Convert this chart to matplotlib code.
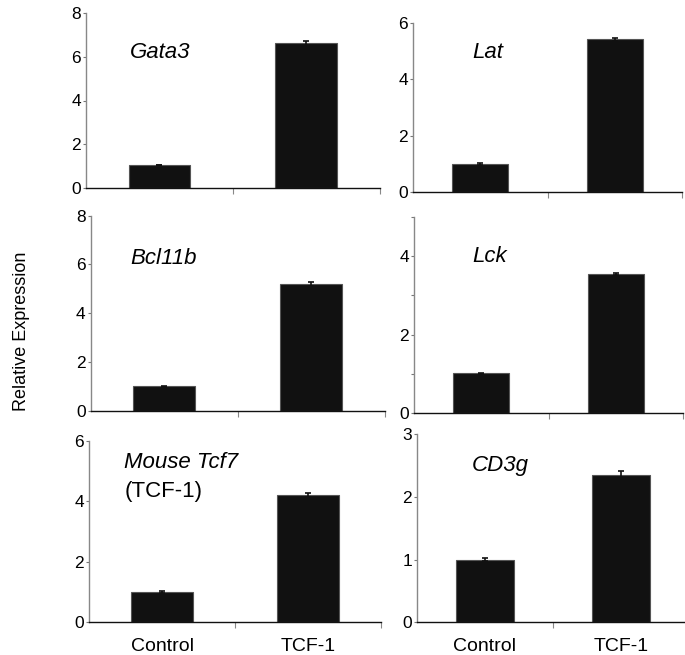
import matplotlib
matplotlib.use("Agg")
import matplotlib.pyplot as plt

plt.rcParams['font.family'] = ['Liberation Sans', 'DejaVu Sans']

groups = ["Control", "TCF-1"]
genes = ["Gata3", "Lat", "Bcl11b", "Lck", "Mouse Tcf7", "CD3g"]
control_vals = [1.05, 1.0, 1.0, 1.02, 1.0, 1.0]
tcf1_vals = [6.62, 5.42, 5.2, 3.55, 4.2, 2.35]
control_err = [0.02, 0.04, 0.01, 0.01, 0.03, 0.02]
tcf1_err = [0.12, 0.05, 0.1, 0.03, 0.07, 0.06]
y_max = [8, 6, 8, 5, 6, 3]
y_ticks = [[0, 2, 4, 6, 8], [0, 2, 4, 6], [0, 2, 4, 6, 8], [0, 1, 2, 3, 4, 5], [0, 2, 4, 6], [0, 1, 2, 3]]
y_ticklabels = [["0", "2", "4", "6", "8"], ["0", "2", "4", "6"], ["0", "2", "4", "6", "8"],
                ["0", "", "2", "", "4", ""], ["0", "2", "4", "6"], ["0", "1", "2", "3"]]

W, H = 685, 655
fig = plt.figure(figsize=(W / 100, H / 100), dpi=100)

# axes boxes in pixels: left, top, right, bottom
boxes = [
    (86, 13, 379.5, 188),
    (413, 23, 682, 192),
    (90.5, 215.7, 384.5, 410.7),
    (414, 216.7, 683, 413.3),
    (89, 440.7, 381, 622.3),
    (417, 434, 689, 622.3),
]
# gene label positions (pixels, left x, center y)
label_pos = [(130, 53), (472, 52), (130, 258), (472, 257), (124, 463), (472, 465)]

for i, g in enumerate(genes):
    l, t, r, b = boxes[i]
    ax = fig.add_axes([l / W, (H - b) / H, (r - l) / W, (b - t) / H])
    x = [0, 1]
    ax.bar(x, [control_vals[i], tcf1_vals[i]], width=0.42, color="#111111",
           edgecolor="#555555", linewidth=0.8, zorder=2)
    ax.errorbar(x, [control_vals[i], tcf1_vals[i]], yerr=[control_err[i], tcf1_err[i]],
                fmt="none", ecolor="#111111", elinewidth=1.2, capsize=2.5, capthick=1.2, zorder=3)
    ax.set_xlim(-0.5, 1.5)
    ax.set_ylim(0, y_max[i])
    ax.set_yticks(y_ticks[i])
    ax.set_yticklabels(y_ticklabels[i], fontsize=12.5)
    ax.tick_params(axis='y', direction='out', length=2.5, width=0.8, color="#777777", pad=1.0)
    ax.spines['top'].set_visible(False)
    ax.spines['right'].set_visible(False)
    ax.spines['left'].set_color("#888888")
    ax.spines['left'].set_linewidth(1.0)
    ax.spines['bottom'].set_color("#111111")
    ax.spines['bottom'].set_linewidth(1.0)
    ax.set_xticks([0.5, 1.5], minor=True)
    ax.tick_params(axis='x', which='minor', direction='out', length=4, width=0.8, color="#888888")
    if i >= 4:
        ax.set_xticks(x)
        ax.set_xticklabels(groups, fontsize=14)
        ax.tick_params(axis='x', which='major', length=0, pad=11)
    else:
        ax.set_xticks([])
    lx, ly = label_pos[i]
    fig.text(lx / W, (H - ly) / H, g, fontsize=16, style='italic', va='center', ha='left')
    if g == "Mouse Tcf7":
        fig.text(125 / W, (H - 492) / H, "(TCF-1)", fontsize=16, va='center', ha='left')

fig.text(22 / W, (H - 331) / H, "Relative Expression", rotation=90, fontsize=13,
         va='center', ha='center')

fig.savefig("out.png", dpi=100)
